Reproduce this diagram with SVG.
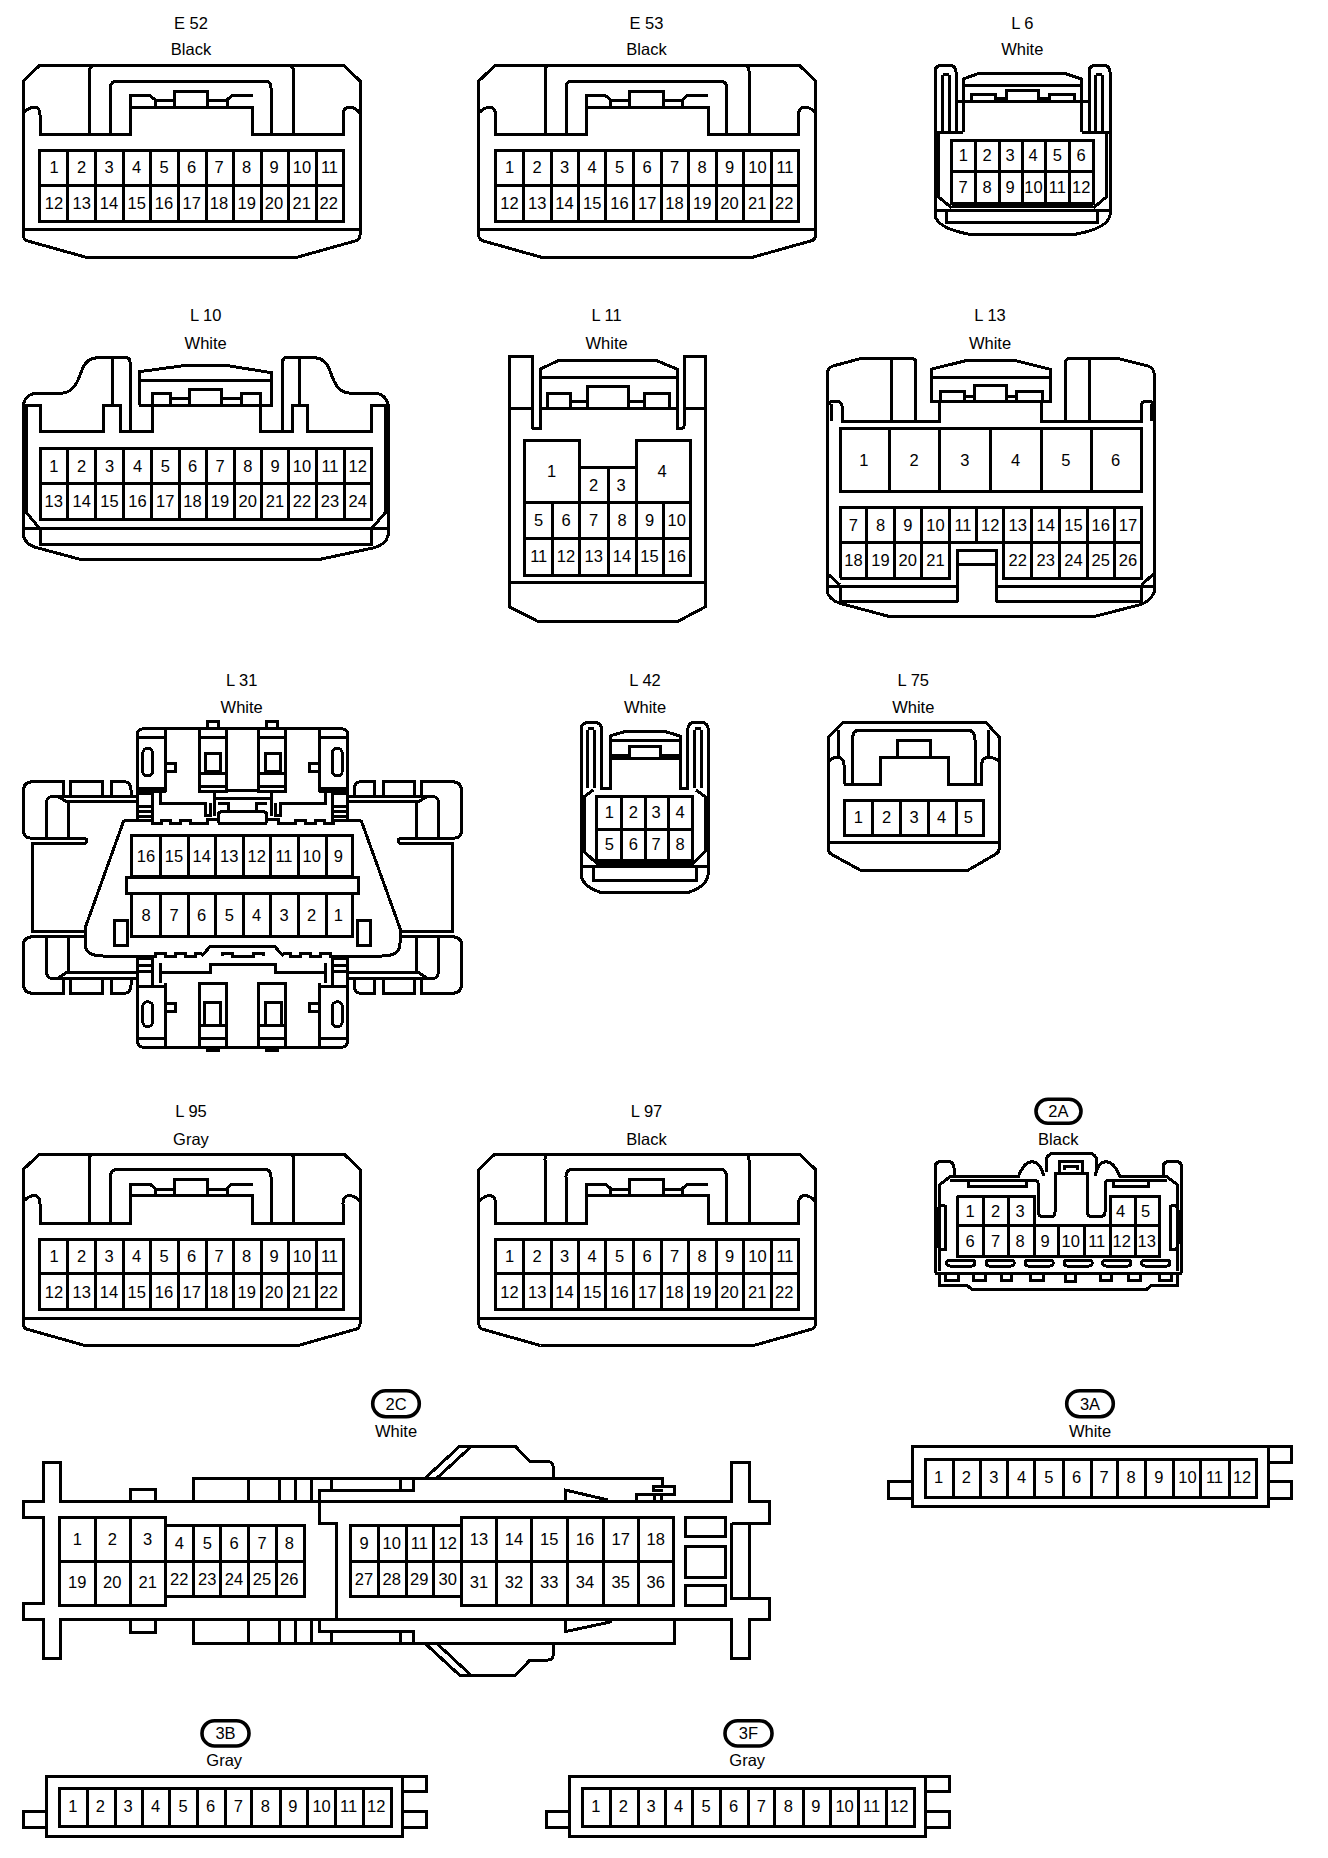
<svg xmlns="http://www.w3.org/2000/svg" width="1328" height="1858" viewBox="0 0 1328 1858">
<style>
text{font-family:"Liberation Sans",Arial,sans-serif;font-size:16.5px;text-anchor:middle;fill:#000}
.s,.s path,.s rect{fill:none;stroke:#000;stroke-width:3;stroke-linejoin:miter;shape-rendering:crispEdges}
.b rect{fill:none;stroke:#000;stroke-width:3.6}
</style>
<defs>
<g id="body22" class="s">
<path d="M39.5,65.5H344L360,81V235Q360,240 355,241L298,257H85L28,241Q23.3,240 23.3,235V81Z"/>
<path d="M23.3,229.7H360M23.3,113Q29,107 35,107Q40,108 40,115V134.5H130.7V95.7H150L155.3,100V107M130.7,107.3H252.7V134.5H343V115Q343,107 350,107Q356,108 360,113"/>
<path d="M40,134.5H130.7M89.5,134.5V71Q89.5,66 94,65.5M293.5,134.5V71Q293.5,66 289,65.5M110.5,134.5V88Q110.5,81 117,81H265Q271,81 271,88V134.5M174,107V91.3H207.5V107M156,100.7H174M207.5,100.7H227M227,107V100L231.7,95.7H252.7"/>
<path d="M39.5,150.7H343V221.3H39.5ZM39.5,185.3H343M67.7,150.7V221.3M95.7,150.7V221.3M123,150.7V221.3M150.3,150.7V221.3M178.3,150.7V221.3M206,150.7V221.3M233.3,150.7V221.3M261,150.7V221.3M288.3,150.7V221.3M316,150.7V221.3"/>
</g>
<g id="strip12" class="s">
<path d="M46.4,1776H402.6V1836H46.4ZM46.4,1811H23V1827.7H46.4M402.6,1776H426V1791.7H402.6M402.6,1811H426V1827.7H402.6"/>
<path d="M59.3,1788.3H391V1826.7H59.3ZM87.5,1788.3V1826.7M115,1788.3V1826.7M142,1788.3V1826.7M169,1788.3V1826.7M197.2,1788.3V1826.7M225.4,1788.3V1826.7M251.8,1788.3V1826.7M280,1788.3V1826.7M307.6,1788.3V1826.7M335,1788.3V1826.7M363.3,1788.3V1826.7"/>
</g>
<g id="l31wing" class="s">
<path d="M63.3,796.7V781.7H33Q23.3,781.7 23.3,791.7V830Q23.3,838.3 31.7,838.3H83Q87,838.3 87,841Q87,843.3 83,843.3H32.3V931.7H85"/>
<path d="M70.7,796.7V781.7H102V796.7M111,796.7V781.7H124Q131,781.7 131,790V796.7M46.7,838.3V802Q46.7,796.7 52,796.7H136M58,796.7L66.7,801.7H138M68.3,801.7V838.3"/>
<path d="M85,936.7H33Q23.3,936.7 23.3,946V983Q23.3,993.3 33,993.3H63.3V978.3M70.7,978.3V993.3H102V978.3M111,978.3V993.3H124Q131,993.3 131,985V978.3M46.7,936.7V972Q46.7,978.3 52,978.3H136M58,978.3L66.7,972.5H136M68.3,972.5V936.7"/>
</g>
<g id="l31top" class="s">
<path d="M137.3,791.7V735Q137.3,728.7 144,728.7H242.5M165.7,728.7V791.7M137.3,737.3H165.7M137.3,788.3H165.7M137.3,791.7H165.7M165.7,763.3H175.7V771.7H165.7"/>
<rect x="142.7" y="748.3" width="10" height="27.7" rx="5"/>
<path d="M199.3,728.7H226.7V791.7H199.3ZM199.3,737.3H226.7M199.3,773.3H226.7M199.3,786.7H226.7M205,753.3H220V771.7H205ZM207.3,728.7V721.7H218.3V728.7"/>
<path d="M138.5,793H152.7V823M160,792V803.3H205V815H210V803.3M214,792V816M138,806.7H152M138,811.7H152M138,816.7H152M137.3,791.7V820M226.7,790.7H242.5M214,798.3H242.5"/>
<path d="M124,820H152V823.5H161V820H170V823.5H180V820H190V823.5H207V819H218.3M218.3,823V815Q218.3,811.7 222,811.7H242.5M218.3,803.3H228.3V811.7M124,820L85,928.3"/>
</g>
<g id="l31bot" class="s">
<path d="M137.3,983.3V1040Q137.3,1047.3 144,1047.3H242.5M165.7,983.3V1047.3M137.3,986.7H165.7M137.3,1038.3H165.7M165.7,1003.3H175.7V1011.7H165.7"/>
<rect x="142.7" y="1001.7" width="10" height="25" rx="5"/>
<path d="M199.3,983.3H226.7V1047.3H199.3ZM204,1025V1002.7H220V1025M199.3,1025H226.7M199.3,1038.3H226.7M207.3,1047.3V1050H218.3V1047.3"/>
<path d="M152.7,956V985M160,963.3V983M137.3,958.3H152M137.3,965H152M137.3,971.7H152M137.3,956V983.3M160,972.7H210V964H242.5"/>
<path d="M85,943.3Q85,956 103.3,956H155V953.3H165V956H175V953.3H185V956H195V953.3H201.7M201.7,956L210,946.7H242.5M222,956V953.3H232V956H242.5M85,928.3V943.3"/>
</g>
</defs>
<rect width="1328" height="1858" fill="#fff"/>

<g id="E52">
<text x="191" y="28.7">E 52</text><text x="191" y="55.3">Black</text>
<use href="#body22"/>
<text x="54" y="173.3">1</text><text x="81.7" y="173.3">2</text><text x="109" y="173.3">3</text><text x="136.7" y="173.3">4</text><text x="164" y="173.3">5</text><text x="191.7" y="173.3">6</text><text x="219" y="173.3">7</text><text x="246.7" y="173.3">8</text><text x="274" y="173.3">9</text><text x="302" y="173.3">10</text><text x="329.5" y="173.3">11</text>
<text x="54" y="209">12</text><text x="81.7" y="209">13</text><text x="109" y="209">14</text><text x="136.7" y="209">15</text><text x="164" y="209">16</text><text x="191.7" y="209">17</text><text x="219" y="209">18</text><text x="246.7" y="209">19</text><text x="274" y="209">20</text><text x="301.7" y="209">21</text><text x="328.7" y="209">22</text>
</g>
<g id="E53" transform="translate(455.5 0)">
<text x="191" y="28.7">E 53</text><text x="191" y="55.3">Black</text>
<use href="#body22"/>
<text x="54" y="173.3">1</text><text x="81.7" y="173.3">2</text><text x="109" y="173.3">3</text><text x="136.7" y="173.3">4</text><text x="164" y="173.3">5</text><text x="191.7" y="173.3">6</text><text x="219" y="173.3">7</text><text x="246.7" y="173.3">8</text><text x="274" y="173.3">9</text><text x="302" y="173.3">10</text><text x="329.5" y="173.3">11</text>
<text x="54" y="209">12</text><text x="81.7" y="209">13</text><text x="109" y="209">14</text><text x="136.7" y="209">15</text><text x="164" y="209">16</text><text x="191.7" y="209">17</text><text x="219" y="209">18</text><text x="246.7" y="209">19</text><text x="274" y="209">20</text><text x="301.7" y="209">21</text><text x="328.7" y="209">22</text>
</g>
<g id="L95" transform="translate(0 1088.5)">
<text x="191" y="28.7">L 95</text><text x="191" y="56.3">Gray</text>
<use href="#body22"/>
<text x="54" y="173.3">1</text><text x="81.7" y="173.3">2</text><text x="109" y="173.3">3</text><text x="136.7" y="173.3">4</text><text x="164" y="173.3">5</text><text x="191.7" y="173.3">6</text><text x="219" y="173.3">7</text><text x="246.7" y="173.3">8</text><text x="274" y="173.3">9</text><text x="302" y="173.3">10</text><text x="329.5" y="173.3">11</text>
<text x="54" y="209">12</text><text x="81.7" y="209">13</text><text x="109" y="209">14</text><text x="136.7" y="209">15</text><text x="164" y="209">16</text><text x="191.7" y="209">17</text><text x="219" y="209">18</text><text x="246.7" y="209">19</text><text x="274" y="209">20</text><text x="301.7" y="209">21</text><text x="328.7" y="209">22</text>
</g>
<g id="L97" transform="translate(455.5 1088.5)">
<text x="191" y="28.7">L 97</text><text x="191" y="56.3">Black</text>
<use href="#body22"/>
<text x="54" y="173.3">1</text><text x="81.7" y="173.3">2</text><text x="109" y="173.3">3</text><text x="136.7" y="173.3">4</text><text x="164" y="173.3">5</text><text x="191.7" y="173.3">6</text><text x="219" y="173.3">7</text><text x="246.7" y="173.3">8</text><text x="274" y="173.3">9</text><text x="302" y="173.3">10</text><text x="329.5" y="173.3">11</text>
<text x="54" y="209">12</text><text x="81.7" y="209">13</text><text x="109" y="209">14</text><text x="136.7" y="209">15</text><text x="164" y="209">16</text><text x="191.7" y="209">17</text><text x="219" y="209">18</text><text x="246.7" y="209">19</text><text x="274" y="209">20</text><text x="301.7" y="209">21</text><text x="328.7" y="209">22</text>
</g>

<g id="L6">
<text x="1022.3" y="28.7">L 6</text><text x="1022.3" y="55.3">White</text>
<g class="s">
<path d="M935,215V72Q935,65 942,65H949Q956,65 956,72V132M1110,215V72Q1110,65 1103,65H1096Q1089,65 1089,72V132M935,215Q937,228 968,234H1076.7Q1108,228 1110,215"/>
<path d="M942.7,75V132M949,75V132M942.7,74H949M1095.5,75V132M1102,75V132M1095.5,74H1102M935,132H963M1081.7,132H1110M963,132V79L980,73H1063.3L1081.7,79V132M963,85.7H1081.7M956,101.7H1089"/>
<path d="M971,101.7V94.3H995V101.7M1006.7,101.7V90H1038.3V101.7M1049.3,101.7V94.3H1074.3V101.7M995,98.3H1006.7M1038.3,98.3H1049.3"/>
<path d="M951.7,140H1093.3V203.3H951.7ZM951.7,171.7H1093.3M975.7,140V203.3M999,140V203.3M1022.3,140V203.3M1045.7,140V203.3M1069.7,140V203.3"/>
<path d="M938.3,132V196.7L951.7,208M1106.7,132V196.7L1093.3,208M951.7,206.7H1093.3M935,210.7H1110M946.7,210.7V222.7H1097.3V210.7"/>
</g>
<text x="963.3" y="161">1</text><text x="987" y="161">2</text><text x="1010" y="161">3</text><text x="1033" y="161">4</text><text x="1057.3" y="161">5</text><text x="1081" y="161">6</text>
<text x="963" y="192.7">7</text><text x="987" y="192.7">8</text><text x="1010" y="192.7">9</text><text x="1033.5" y="192.7">10</text><text x="1057.3" y="192.7">11</text><text x="1081.3" y="192.7">12</text>
</g>

<g id="L10">
<text x="205.7" y="321">L 10</text><text x="205.7" y="348.5">White</text>
<g class="s">
<path d="M130,431.7V362Q130,357.7 126,357.7H98C90,357.7 85,362 82,370C78,380 75,393.3 60,393.3H35Q25,395 23.3,405V535Q25,545 38,548L80,559.3H320L373,548Q386,545 388.3,535V405Q386,395 376.7,393.3H351.6C336.6,393.3 333.6,380 329.6,370C326.6,362 321.6,357.7 313.6,357.7H286Q282.7,357.7 282.7,362V431.7"/>
<path d="M112.7,357.7V405M23.3,405H40V431.7H103.3V405H120V431.7H152.7V393.3H170.3V405M299.3,357.7V405M388.3,405H371.7V431.7H307.3V405H292.7V431.7H260.7V393.3H241.7V405"/>
<path d="M139.3,405V371.7L188.3,365H223.3L271.7,372.7V405H139.3M139.3,380.7H271.7M189.3,405V389.3H221.7V405M170.3,398.3H189.3M221.7,398.3H241.7"/>
<path d="M40,448.3H371.7V519.3H40ZM40,483.3H371.7M67.7,448.3V519.3M95.7,448.3V519.3M123.3,448.3V519.3M151.7,448.3V519.3M179,448.3V519.3M206,448.3V519.3M234,448.3V519.3M261.7,448.3V519.3M288.3,448.3V519.3M316,448.3V519.3M344,448.3V519.3"/>
<path d="M26.7,405V513L39.3,528M385,405V513L372,528M23.3,528.3H388.3M40,528.3V544H371.7V528.3"/>
</g>
<text x="53.8" y="471.7">1</text><text x="81.7" y="471.7">2</text><text x="109.5" y="471.7">3</text><text x="137.5" y="471.7">4</text><text x="165.3" y="471.7">5</text><text x="192.5" y="471.7">6</text><text x="220" y="471.7">7</text><text x="247.8" y="471.7">8</text><text x="275" y="471.7">9</text><text x="302" y="471.7">10</text><text x="330" y="471.7">11</text><text x="357.8" y="471.7">12</text>
<text x="53.8" y="506.7">13</text><text x="81.7" y="506.7">14</text><text x="109.5" y="506.7">15</text><text x="137.5" y="506.7">16</text><text x="165.3" y="506.7">17</text><text x="192.5" y="506.7">18</text><text x="220" y="506.7">19</text><text x="247.8" y="506.7">20</text><text x="275" y="506.7">21</text><text x="302" y="506.7">22</text><text x="330" y="506.7">23</text><text x="357.8" y="506.7">24</text>
</g>

<g id="L11">
<text x="606.6" y="321">L 11</text><text x="606.6" y="348.5">White</text>
<g class="s">
<path d="M532,356.7H509V606.7L538.5,621.7H677.3L705.5,606.7V356.7H684V426Q684,428.3 681,428.3H677.3V369.3L657,360.7H558L540,369.3V428.3H534Q532,428.3 532,426Z"/>
<path d="M540,377.3H677.3M509,408.3H532M540,408.3H677.3M684,408.3H705.5M547.2,408.3V393.3H570.2V408.3M587,408.3V386H628.3V408.3M644.8,408.3V393.3H669V408.3M570.2,401.7H587M628.3,401.7H644.8"/>
<path d="M524.7,440.7H579.7V467.3H636V440.7H690.3V575H524.7ZM524.7,502.7H690.3M579.7,467.3V575M608,467.3V575M636,467.3V575M552.9,502.7V575M663,502.7V575M524.7,538.3H690.3M509,582.7H705.5"/>
</g>
<text x="551.5" y="477.3">1</text><text x="593.6" y="491">2</text><text x="621" y="491">3</text><text x="662" y="477.3">4</text>
<text x="538.7" y="526">5</text><text x="566" y="526">6</text><text x="593.7" y="526">7</text><text x="622" y="526">8</text><text x="649.5" y="526">9</text><text x="676.7" y="526">10</text>
<text x="538.7" y="561.7">11</text><text x="566" y="561.7">12</text><text x="593.7" y="561.7">13</text><text x="622" y="561.7">14</text><text x="649.5" y="561.7">15</text><text x="676.7" y="561.7">16</text>
</g>

<g id="L13">
<text x="990" y="321">L 13</text><text x="990" y="348.5">White</text>
<g class="s">
<path d="M915.8,421V362Q915.8,358.3 909,358.3H861.6L833,366Q827,368 827,375V592Q830,600 840,603.3L890,616.7H1093.6L1139,605Q1150,602 1154.3,592V375Q1154.3,368 1148,366L1117.5,358.3H1072Q1065.4,358.3 1065.4,362V421"/>
<path d="M891,358.3V421M1089.3,358.3V421M828,405Q830,401 834,401Q842,401 842,406V421H939.7V401.7M1041.6,401.7V421H1141.3V406Q1141.3,401 1147,401Q1152,401 1154,405M831,404V421M1151,404V421"/>
<path d="M931,401.7V369.3L965.7,360.7H1015.5L1050.3,369.3V401.7ZM931,377.3H1050.3M940.5,401.7V391.7H964.8V401.7M974.4,401.7V385H1006V401.7M1016.9,401.7V391.7H1042.4V401.7M964.8,396.7H974.4M1006,396.7H1016.9"/>
<path d="M840,428.3H1141.3V491.7H840ZM889.8,428.3V491.7M939.7,428.3V491.7M990.8,428.3V491.7M1041.6,428.3V491.7M1091.4,428.3V491.7"/>
<path d="M840,578.3V507.3H1141.3V578.3H1003.9V542.7M840,578.3H949.6V542.7M840,542.7H1141.3M866.8,507.3V578.3M894.1,507.3V578.3M921.5,507.3V578.3M949.6,507.3V542.7M976.5,507.3V542.7M1003.9,507.3V542.7M1031.6,507.3V578.3M1059.8,507.3V578.3M1087.1,507.3V578.3M1114.4,507.3V578.3"/>
<path d="M957.9,601.7V550H996V601.7M957.9,564H996M827,586H957.9M996,586H1154.3M840,586V601.7H957.9M1141.3,586V601.7H996M827,573.3L840,585M1154.3,573.3L1141.3,585"/>
</g>
<text x="863.8" y="466">1</text><text x="914" y="466">2</text><text x="964.8" y="466">3</text><text x="1015.6" y="466">4</text><text x="1065.9" y="466">5</text><text x="1115.7" y="466">6</text>
<text x="853.4" y="530.7">7</text><text x="880.5" y="530.7">8</text><text x="907.8" y="530.7">9</text><text x="935.5" y="530.7">10</text><text x="963" y="530.7">11</text><text x="990.2" y="530.7">12</text><text x="1017.7" y="530.7">13</text><text x="1045.7" y="530.7">14</text><text x="1073.5" y="530.7">15</text><text x="1100.7" y="530.7">16</text><text x="1127.9" y="530.7">17</text>
<text x="853.4" y="566">18</text><text x="880.5" y="566">19</text><text x="907.8" y="566">20</text><text x="935.5" y="566">21</text><text x="1017.7" y="566">22</text><text x="1045.7" y="566">23</text><text x="1073.5" y="566">24</text><text x="1100.7" y="566">25</text><text x="1127.9" y="566">26</text>
</g>

<g id="L31">
<text x="241.7" y="686">L 31</text><text x="241.7" y="713.3">White</text>
<use href="#l31wing"/><use href="#l31wing" transform="translate(485 0) scale(-1 1)"/>
<use href="#l31top"/><use href="#l31top" transform="translate(485 0) scale(-1 1)"/>
<use href="#l31bot"/><use href="#l31bot" transform="translate(485 0) scale(-1 1)"/>
<g class="s">
<path d="M85,928.3V943.3M131,835H352.7V876.7H131ZM160,835V876.7M188.3,835V876.7M215,835V876.7M243.3,835V876.7M270,835V876.7M298.3,835V876.7M326,835V876.7"/>
<path d="M126.7,877.3H358.3V893.3H126.7ZM131,893.3V936.7H352.7V893.3M160,893.3V936.7M188.3,893.3V936.7M215,893.3V936.7M243.3,893.3V936.7M270,893.3V936.7M298.3,893.3V936.7M326,893.3V936.7"/>
<path d="M114.3,920.7H127.3V945.7H114.3ZM357.3,920.7H370V945.7H357.3ZM218.3,823H266.7"/>
</g>
<text x="146" y="861.7">16</text><text x="174" y="861.7">15</text><text x="201.7" y="861.7">14</text><text x="229.3" y="861.7">13</text><text x="256.7" y="861.7">12</text><text x="284" y="861.7">11</text><text x="311.7" y="861.7">10</text><text x="338.3" y="861.7">9</text>
<text x="146" y="920.7">8</text><text x="174" y="920.7">7</text><text x="201.7" y="920.7">6</text><text x="229.3" y="920.7">5</text><text x="256.7" y="920.7">4</text><text x="284" y="920.7">3</text><text x="311.7" y="920.7">2</text><text x="338.3" y="920.7">1</text>
</g>

<g id="L42">
<text x="645" y="686">L 42</text><text x="645" y="713.3">White</text>
<g class="s">
<path d="M581,873V730Q581,722.3 589,722.3H594Q601.7,722.3 601.7,730V788.3H610V736L626.7,731H663.3L680,736V788.3H687.7V730Q687.7,722.3 695,722.3H700Q708.3,722.3 708.3,730V873Q708,886 688,892.5H601Q581,886 581,873"/>
<path d="M587.7,730V788.3M594.3,730V788.3M587.7,728.3H594.3M694.7,730V788.3M701.3,730V788.3M694.7,728.3H701.3M610,740.7H680M610,755H629M610,758.3H660.7M660.7,755H680M660.7,758.3H680M629,758.3V746.7H660.7V758.3"/>
<path d="M596.7,796.7H692.7V860.7H596.7ZM596.7,829H692.7M621.7,796.7V860.7M645,796.7V860.7M668.3,796.7V860.7"/>
<path d="M593.3,790L584.3,796.7V851.7L596.7,863.3H692.7L705,851.7V796.7L696,790M581,866.7H708.3M593.3,866.7V880H696V866.7"/>
</g>
<text x="609.3" y="818.3">1</text><text x="633.3" y="818.3">2</text><text x="656" y="818.3">3</text><text x="680" y="818.3">4</text>
<text x="609.3" y="850">5</text><text x="633.3" y="850">6</text><text x="656" y="850">7</text><text x="680" y="850">8</text>
</g>

<g id="L75">
<text x="913.3" y="686">L 75</text><text x="913.3" y="713.3">White</text>
<g class="s">
<path d="M843.3,722.3H986L999.3,737.3V848Q999.3,852 996,854L968.3,870H860L831,854Q828.3,852 828.3,848V737.3ZM828.3,842.7H999.3"/>
<path d="M852.3,784.3V740Q852.3,730 860,730H966.7Q975,730 975,740V784.3M844,784.3H880V757.3H948.3V784.3H981.7V765Q981.7,757.3 988.3,757.3Q995,757.3 999.3,761.7M844,784.3V765Q844,757.3 836.7,757.3Q832,757.3 828.3,761.7M897.3,757.3V740.7H930.7V757.3M838.3,730V758M988.3,730V758"/>
<path d="M844,800H983.3V835H844ZM872.7,800V835M900,800V835M928.3,800V835M956,800V835"/>
</g>
<text x="858.3" y="822.7">1</text><text x="886.7" y="822.7">2</text><text x="914" y="822.7">3</text><text x="941.7" y="822.7">4</text><text x="968.3" y="822.7">5</text>
</g>

<g id="c2A">
<g class="b"><rect x="1036" y="1099.3" width="45" height="24" rx="12"/></g>
<text x="1058.3" y="1117.3">2A</text><text x="1058.3" y="1145">Black</text>
<g class="s">
<path d="M935,1273.3V1168Q935,1161 942,1161H947Q954,1161 954,1168V1176.7M1181.7,1273.3V1168Q1181.7,1161 1175,1161H1170Q1163,1161 1163,1168V1176.7M935,1273.3H1181.7M939.3,1270.7V1185L950,1176.7H1018.3Q1024,1161.7 1032,1161.7Q1040,1162 1044,1176M1177.7,1270.7V1185L1167,1176.7H1120Q1114,1161.7 1106,1161.7Q1098,1162 1095,1176"/>
<path d="M950,1180H1034Q1038.3,1180 1038.3,1185V1212Q1038.3,1216.7 1043,1216.7H1051Q1055,1216.7 1055,1212V1173.3H1087.3V1212Q1087.3,1216.7 1092,1216.7H1100Q1105,1216.7 1105,1212V1185Q1105,1180 1110,1180H1167M1046,1172V1162Q1046,1153.3 1055,1153.3H1088Q1096.7,1153.3 1096.7,1162V1172M1055,1173.3H1087.3M1059,1173V1161.7H1082.3V1173M1064,1170V1166H1077V1170M968.3,1180V1186.7H1026.7V1180M1113.3,1180V1186.7H1148.3V1180"/>
<path d="M957.3,1196H1034V1225.7M1110.7,1225.7V1196H1159.3V1256H957.3V1196M957.3,1225.7H1159.3M983.3,1196V1256M1008.3,1196V1256M1034,1225.7V1256M1058.3,1225.7V1256M1084,1225.7V1256M1110.7,1225.7V1256M1135,1196V1256"/>
<path d="M945,1205H941Q938.3,1207 938.3,1210V1244Q938.3,1248 941,1249.3H945V1205M1170.7,1205H1175Q1178,1207 1178,1210V1244Q1178,1248 1175,1249.3H1170.7V1205"/>
<rect x="946.7" y="1260" width="28.3" height="6" rx="3"/><rect x="986" y="1260" width="28.3" height="6" rx="3"/><rect x="1025" y="1260" width="28.3" height="6" rx="3"/><rect x="1064" y="1260" width="28.3" height="6" rx="3"/><rect x="1102.7" y="1260" width="28.3" height="6" rx="3"/><rect x="1141.7" y="1260" width="28.3" height="6" rx="3"/>
<path d="M939.3,1273.3V1285H966.7L971.7,1289.3H1146.7L1151.7,1285H1177.7V1273.3M945,1273.3V1280H958.3V1273.3M973.3,1273.3V1280H985V1273.3M1001.7,1273.3V1280H1011.7V1273.3M1030,1273.3V1280H1043.3V1273.3M1065,1273.3V1281H1075V1273.3M1100,1273.3V1280H1111.7V1273.3M1128.3,1273.3V1280H1140V1273.3M1159.3,1273.3V1280H1171.7V1273.3"/>
</g>
<text x="970" y="1216.7">1</text><text x="995.7" y="1216.7">2</text><text x="1020" y="1216.7">3</text><text x="1120.7" y="1216.7">4</text><text x="1145.7" y="1216.7">5</text>
<text x="970" y="1246.7">6</text><text x="995.7" y="1246.7">7</text><text x="1020" y="1246.7">8</text><text x="1045" y="1246.7">9</text><text x="1070.7" y="1246.7">10</text><text x="1096.7" y="1246.7">11</text><text x="1121.7" y="1246.7">12</text><text x="1146.7" y="1246.7">13</text>
</g>

<g id="c2C">
<g class="b"><rect x="372.7" y="1390.7" width="46.6" height="26" rx="13"/></g>
<text x="396" y="1410">2C</text><text x="396" y="1437.3">White</text>
<g class="s">
<path d="M43.3,1501.7V1462.3H60V1501.7H731.7V1462.3H749V1501.7H769V1523.3H749V1598.3H769V1619.3H749V1658.3H731.7V1619.3H60V1658.3H43.3V1619.3H23.3V1603.3H43.3V1517.3H23.3V1501.7ZM731.7,1523.3H749M731.7,1523.3V1598.3H749"/>
<path d="M130,1501.7V1489.3H155V1501.7M130,1619.3V1632.7H155V1619.3M193.3,1501.7V1478.3H662.7V1486H653.3V1490H662.7M662.7,1486H674V1494H636.7V1501.7M654,1494V1501.7M661.7,1494V1501.7M193.3,1619.3V1643.3H674V1619.3"/>
<path d="M248.3,1478.3V1501.7M279.3,1478.3V1501.7M295.7,1478.3V1501.7M311.7,1478.3V1501.7M331.7,1478.3V1490M248.3,1619.3V1643.3M279.3,1619.3V1643.3M295.7,1619.3V1643.3M311.7,1619.3V1643.3M331.7,1631.7V1643.3M319.3,1501.7V1490H413.3V1478.3M400.7,1478.3V1490M319.3,1501.7V1523.3H336V1619.3M319.3,1619.3V1631.7H413.3V1643.3M400.7,1631.7V1643.3"/>
<path d="M425,1478.3L460,1446H515L530,1461.7H548.3Q553.3,1462 553.3,1468V1478.3M436.7,1478.3L470.7,1447M425,1643.3L460,1675.6H515L530,1660H548.3Q553.3,1660 553.3,1653V1643.3M436.7,1643.3L470.7,1675M565,1501.7V1490L608.3,1500M565,1619.3V1631.7L611.7,1621.7"/>
<path d="M59.3,1517.3H165.7V1605H59.3ZM59.3,1561.7H165.7M95,1517.3V1605M130.7,1517.3V1605"/>
<path d="M165.7,1525H304V1596.7H165.7M165.7,1561.7H304M193.3,1525V1596.7M220,1525V1596.7M248.3,1525V1596.7M276,1525V1596.7"/>
<path d="M461,1525H350V1596.7H461M350,1561.7H461M378.3,1525V1596.7M406,1525V1596.7M433.3,1525V1596.7"/>
<path d="M461,1517.3H673.3V1605H461ZM461,1561.7H673.3M496,1517.3V1605M531,1517.3V1605M567.3,1517.3V1605M603.3,1517.3V1605M638.3,1517.3V1605"/>
<path d="M685,1517.3H725V1536.7H685ZM685,1546H725V1577.3H685ZM685,1585H725V1605H685Z"/>
</g>
<text x="77.3" y="1545">1</text><text x="112.3" y="1545">2</text><text x="147.7" y="1545">3</text>
<text x="179.3" y="1549.3">4</text><text x="207.3" y="1549.3">5</text><text x="234" y="1549.3">6</text><text x="262" y="1549.3">7</text><text x="289.3" y="1549.3">8</text>
<text x="364" y="1549.3">9</text><text x="391.7" y="1549.3">10</text><text x="419.3" y="1549.3">11</text><text x="447.7" y="1549.3">12</text>
<text x="479" y="1545">13</text><text x="514" y="1545">14</text><text x="549.3" y="1545">15</text><text x="585" y="1545">16</text><text x="620.7" y="1545">17</text><text x="655.7" y="1545">18</text>
<text x="77.3" y="1588.3">19</text><text x="112.3" y="1588.3">20</text><text x="147.7" y="1588.3">21</text>
<text x="179.3" y="1585">22</text><text x="207.3" y="1585">23</text><text x="234" y="1585">24</text><text x="262" y="1585">25</text><text x="289.3" y="1585">26</text>
<text x="364" y="1585">27</text><text x="391.7" y="1585">28</text><text x="419.3" y="1585">29</text><text x="447.7" y="1585">30</text>
<text x="479" y="1588.3">31</text><text x="514" y="1588.3">32</text><text x="549.3" y="1588.3">33</text><text x="585" y="1588.3">34</text><text x="620.7" y="1588.3">35</text><text x="655.7" y="1588.3">36</text>
</g>

<g id="c3A" transform="translate(865.9 -329.3)">
<g class="b"><rect x="200.8" y="1720" width="46.6" height="26" rx="13"/></g>
<text x="224.1" y="1739.3">3A</text><text x="224.1" y="1766.6">White</text>
<use href="#strip12"/>
<text x="72.8" y="1812.3">1</text><text x="100.4" y="1812.3">2</text><text x="128" y="1812.3">3</text><text x="155.6" y="1812.3">4</text><text x="183" y="1812.3">5</text><text x="210.7" y="1812.3">6</text><text x="238.3" y="1812.3">7</text><text x="265.3" y="1812.3">8</text><text x="292.9" y="1812.3">9</text><text x="321.6" y="1812.3">10</text><text x="348.6" y="1812.3">11</text><text x="376.2" y="1812.3">12</text>
</g>
<g id="c3B">
<g class="b"><rect x="202" y="1720.7" width="47" height="25.3" rx="12.6"/></g>
<text x="225.5" y="1739.3">3B</text><text x="224.2" y="1766">Gray</text>
<use href="#strip12"/>
<text x="72.8" y="1812.3">1</text><text x="100.4" y="1812.3">2</text><text x="128" y="1812.3">3</text><text x="155.6" y="1812.3">4</text><text x="183" y="1812.3">5</text><text x="210.7" y="1812.3">6</text><text x="238.3" y="1812.3">7</text><text x="265.3" y="1812.3">8</text><text x="292.9" y="1812.3">9</text><text x="321.6" y="1812.3">10</text><text x="348.6" y="1812.3">11</text><text x="376.2" y="1812.3">12</text>
</g>
<g id="c3F" transform="translate(523 0)">
<g class="b"><rect x="202" y="1720.7" width="47" height="25.3" rx="12.6"/></g>
<text x="225.5" y="1739.3">3F</text><text x="224.2" y="1766">Gray</text>
<use href="#strip12"/>
<text x="72.8" y="1812.3">1</text><text x="100.4" y="1812.3">2</text><text x="128" y="1812.3">3</text><text x="155.6" y="1812.3">4</text><text x="183" y="1812.3">5</text><text x="210.7" y="1812.3">6</text><text x="238.3" y="1812.3">7</text><text x="265.3" y="1812.3">8</text><text x="292.9" y="1812.3">9</text><text x="321.6" y="1812.3">10</text><text x="348.6" y="1812.3">11</text><text x="376.2" y="1812.3">12</text>
</g>
</svg>
